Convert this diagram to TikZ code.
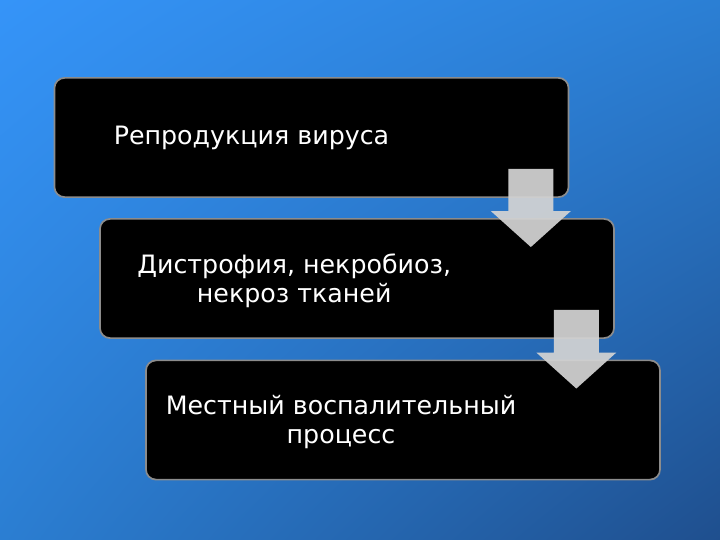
\documentclass[tikz,border=0pt]{standalone}
\usepackage{fontspec}
\setmainfont{DejaVu Sans}
\usepackage{xcolor}
\usepackage{tikz}
\usetikzlibrary{calc,shadings}
\definecolor{bgTopLeft}{HTML}{3594F8}
\definecolor{bgTopRight}{HTML}{2B7FD4}
\definecolor{bgBotLeft}{HTML}{2B7ED2}
\definecolor{bgBotRight}{HTML}{1F4F8E}
\definecolor{boxLine}{HTML}{8C8C8C}
\definecolor{arrowGrey}{HTML}{D3D3D3}
\tikzset{
  stepbox/.style={rectangle, rounded corners=0.25cm, draw=boxLine, fill=black, line width=1.2pt, minimum width=12.85cm, minimum height=2.98cm, inner sep=0pt},
  steptext/.style={text=white, align=center, font=\fontsize{18}{20.5}\selectfont, inner sep=0pt},
  downarrow/.style={fill=arrowGrey, fill opacity=0.93, draw=none},
}
% block arrow from shaft top (#1) to tip (#2)
\newcommand{\blockarrow}[2]{%
  \fill[downarrow] ($(#1)+(-0.5625,0)$) -- ($(#1)+(0.5625,0)$) -- ($(#2)+(0.5625,0.9)$)
    -- ($(#2)+(1,0.9)$) -- (#2) -- ($(#2)+(-1,0.9)$) -- ($(#2)+(-0.5625,0.9)$) -- cycle;}

\begin{document}
\begin{tikzpicture}[x=1cm,y=1cm]

  % ---------- background ----------
  \shade[upper left=bgTopLeft, upper right=bgTopRight, lower left=bgBotLeft, lower right=bgBotRight]
    (0,0) rectangle (18,13.5);
  \useasboundingbox (0,0) rectangle (18,13.5);

  % ---------- steps ----------
  \node[stepbox] (virus)     at (7.7875,10.0625) {};
  \node[stepbox] (dystrophy) at (8.925,6.5375)   {};
  \node[stepbox] (inflam)    at (10.075,3.0)     {};

  \node[steptext] (virusText)     at ($(virus.center)+(-1.5,0)$)          {Репродукция вируса};
  \node[steptext] (dystrophyText) at ($(dystrophy.center)+(-1.57,-0.05)$) {Дистрофия, некробиоз,\\некроз тканей};
  \node[steptext] (inflamText)    at ($(inflam.center)+(-1.55,-0.05)$)    {Местный воспалительный\\процесс};

  % ---------- arrows ----------
  \coordinate (arrowOneTop) at ($(virus.south east)+(-0.9625,0.725)$);
  \coordinate (arrowOneTip) at ($(arrowOneTop |- dystrophy.north)+(0,-0.725)$);
  \coordinate (arrowTwoTop) at ($(dystrophy.south east)+(-0.9625,0.725)$);
  \coordinate (arrowTwoTip) at ($(arrowTwoTop |- inflam.north)+(0,-0.725)$);

  \blockarrow{arrowOneTop}{arrowOneTip}
  \blockarrow{arrowTwoTop}{arrowTwoTip}

\end{tikzpicture}
\end{document}
